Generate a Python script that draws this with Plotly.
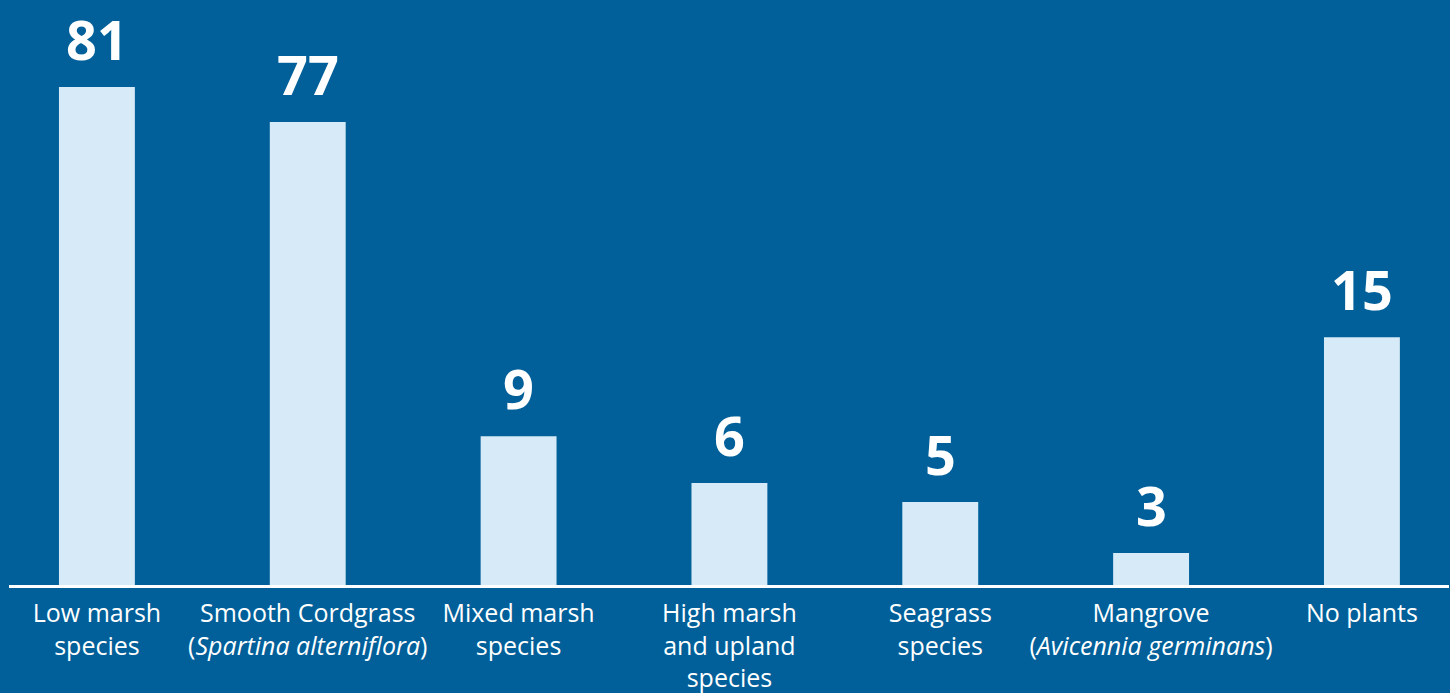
import plotly.graph_objects as go

categories = [
    "Low marsh species",
    "Smooth Cordgrass (Spartina alterniflora)",
    "Mixed marsh species",
    "High marsh and upland species",
    "Seagrass species",
    "Mangrove (Avicennia germinans)",
    "No plants",
]
tick_labels = [
    "Low marsh<br>species",
    "Smooth Cordgrass<br>(<i>Spartina alterniflora</i>)",
    "Mixed marsh<br>species",
    "High marsh<br>and upland<br>species",
    "Seagrass<br>species",
    "Mangrove<br>(<i>Avicennia germinans</i>)",
    "No plants",
]
# value labels printed on the chart
value_labels = [81, 77, 9, 6, 5, 3, 15]
# bar heights as drawn in the picture (same units as the 81 bar)
bar_heights = [81, 75.3, 24.2, 16.6, 13.5, 5.2, 40.3]

BG = "#01609A"
BAR = "#D6EAF7"

fig = go.Figure()
fig.add_trace(go.Bar(
    x=categories,
    y=bar_heights,
    marker=dict(color=BAR, line=dict(width=0)),
    hoverinfo="skip",
))

for c, h, v in zip(categories, bar_heights, value_labels):
    fig.add_annotation(
        x=c, y=h, text=f"<b>{v}</b>", showarrow=False,
        yanchor="bottom", yshift=10, borderpad=0,
        font=dict(family="Open Sans", size=54, color="white"),
    )

fig.update_layout(
    width=1450, height=693,
    paper_bgcolor=BG, plot_bgcolor=BG,
    margin=dict(l=9, r=1, t=0, b=108),
    bargap=0.64,
    showlegend=False,
    font=dict(family="Open Sans", color="white"),
    xaxis=dict(
        type="category",
        tickmode="array", tickvals=categories, ticktext=tick_labels,
        tickfont=dict(family="Open Sans", size=25, color="white"),
        ticklabelstandoff=4,
        showline=True, linecolor="white", linewidth=3,
        showgrid=False, zeroline=False, ticks="",
        range=[-0.417, 6.413],
        fixedrange=True,
    ),
    yaxis=dict(
        range=[0, 95.15], visible=False, showgrid=False, zeroline=False,
        fixedrange=True,
    ),
)

fig.write_html(
    "out.html",
    config={"displayModeBar": False},
    post_script="document.body.style.margin='0';document.body.style.overflow='hidden';document.body.style.background='" + BG + "';",
)
